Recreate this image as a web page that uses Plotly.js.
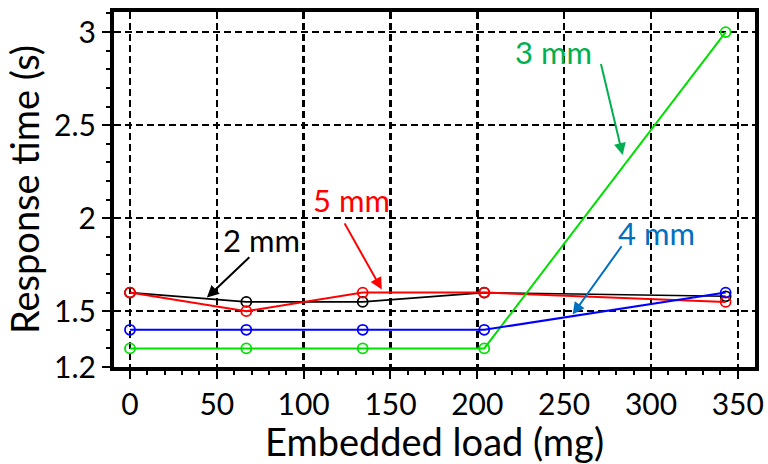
<!DOCTYPE html>
<html>
<head>
<meta charset="utf-8">
<script src="https://cdn.plot.ly/plotly-3.0.1.min.js"></script>
<style>html,body{margin:0;padding:0;background:#fff;}#chart{width:768px;height:464px;}</style>
</head>
<body>
<div id="chart"></div>
<script>
// Data
const loads = [0, 67, 134, 204, 343];
const t2mm = [1.6, 1.55, 1.55, 1.6, 1.58];
const t3mm = [1.3, 1.3, 1.3, 1.3, 3.0];
const t4mm = [1.4, 1.4, 1.4, 1.4, 1.6];
const t5mm = [1.6, 1.5, 1.6, 1.6, 1.55];
const yTickVals = [1.2, 1.5, 2, 2.5, 3];
const yTickText = ['1.2', '1.5', '2', '2.5', '3'];
const xLabel = 'Embedded load (mg)';
const yLabel = 'Response time (s)';

const FONT = 'Lato, "Open Sans", sans-serif';

function tr(y, color, w, name) {
  return {
    x: loads, y: y, type: 'scatter', mode: 'lines+markers', name: name,
    line: {color: color, width: w},
    marker: {symbol: 'circle-open', size: 10, color: color, line: {width: 1.8, color: color}},
    cliponaxis: false
  };
}

const data = [
  tr(t2mm, '#000000', 1.6, '2 mm'),
  tr(t5mm, '#ff0000', 2, '5 mm'),
  tr(t3mm, '#00e000', 2, '3 mm'),
  tr(t4mm, '#0000ff', 2, '4 mm')
];

function label(text, x, y, color) {
  return {text: text, x: x, y: y, xref: 'x', yref: 'y', showarrow: false,
          xanchor: 'center', yanchor: 'middle', font: {family: FONT, size: 31, color: color}};
}
function arrow(x, y, ax, ay, color) {
  return {text: '', x: x, y: y, ax: ax, ay: ay, xref: 'x', yref: 'y', axref: 'x', ayref: 'y',
          showarrow: true, arrowhead: 2, arrowsize: 1.2, arrowwidth: 2, arrowcolor: color};
}

const layout = {
  width: 768, height: 464,
  margin: {l: 114, r: 12.5, t: 11.5, b: 96.5},
  paper_bgcolor: '#ffffff', plot_bgcolor: '#ffffff',
  showlegend: false,
  font: {family: FONT, size: 29, color: '#000'},
  xaxis: {
    range: [-9.2, 359.9],
    tickmode: 'linear', tick0: 0, dtick: 50,
    ticks: 'outside', ticklen: 8, tickwidth: 2, tickcolor: '#000',
    minor: {tickmode: 'linear', tick0: 0, dtick: 10, ticks: 'outside', ticklen: 4, tickwidth: 2, tickcolor: '#000', showgrid: false},
    showline: true, linewidth: 4, linecolor: '#000', mirror: true,
    showgrid: true, gridcolor: '#000', gridwidth: 2.5, griddash: '7px,4px',
    zeroline: false,
    tickfont: {family: FONT, size: 30, color: '#000'},
    title: {text: xLabel, font: {family: FONT, size: 38, color: '#000'}, standoff: 2}
  },
  yaxis: {
    range: [1.2, 3.108],
    tickmode: 'array', tickvals: yTickVals, ticktext: yTickText,
    ticks: 'outside', ticklen: 8, tickwidth: 2, tickcolor: '#000',
    minor: {tickmode: 'linear', tick0: 0, dtick: 0.1, ticks: 'outside', ticklen: 4, tickwidth: 2, tickcolor: '#000', showgrid: false},
    showline: true, linewidth: 4, linecolor: '#000', mirror: true,
    showgrid: true, gridcolor: '#000', gridwidth: 2.5, griddash: '7px,4px',
    zeroline: false,
    tickfont: {family: FONT, size: 30, color: '#000'},
    title: {text: yLabel, font: {family: FONT, size: 38, color: '#000'}, standoff: 4}
  },
  annotations: [
    label('3 mm', 244.0, 2.891, '#00b050'),
    arrow(283.7, 2.339, 271.0, 2.837, '#00b050'),
    label('4 mm', 303.2, 1.922, '#0070c0'),
    arrow(254.9, 1.482, 283.7, 1.857, '#0070c0'),
    label('5 mm', 127.7, 2.098, '#ff0000'),
    arrow(145.0, 1.616, 123.1, 1.980, '#ff0000'),
    label('2 mm', 75.9, 1.884, '#000000'),
    arrow(44.3, 1.573, 69.6, 1.798, '#000000')
  ]
};

Plotly.newPlot('chart', data, layout, {displayModeBar: false, staticPlot: true});
</script>
</body>
</html>
